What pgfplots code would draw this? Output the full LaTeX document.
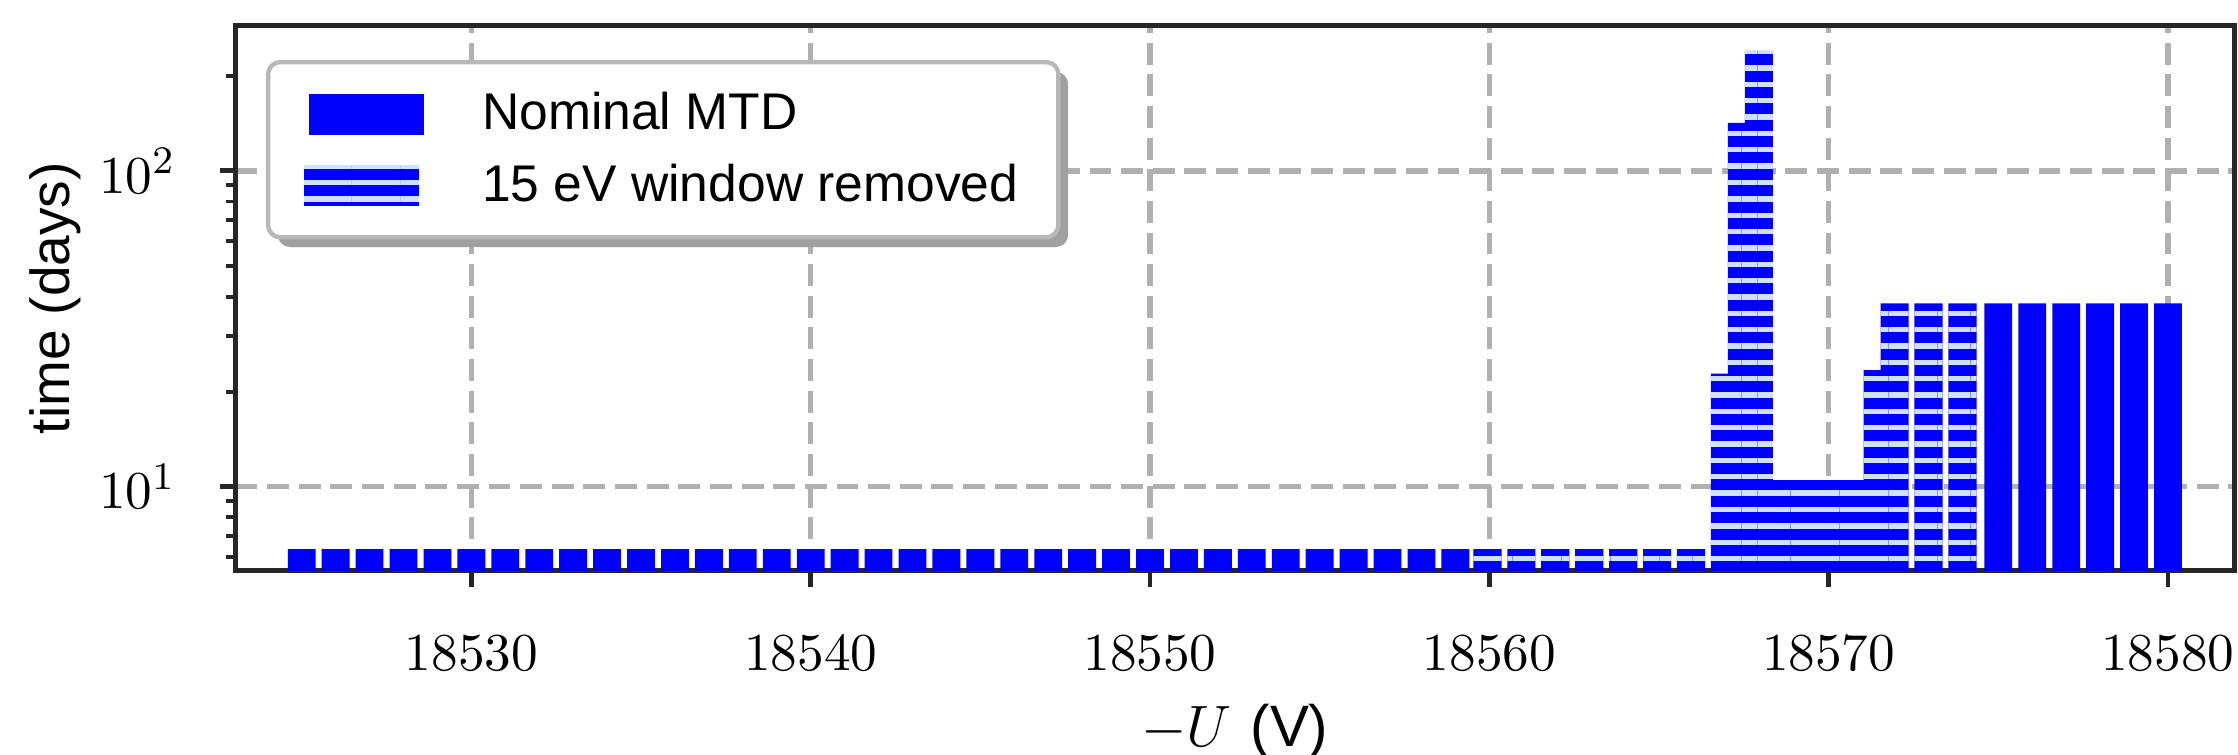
\documentclass[border=0pt]{standalone}
\usepackage{pgfplots}
\pgfplotsset{compat=1.18}
\usepackage{pgfplotstable}
\usepackage{fontspec}
\newfontfamily\arial{Liberation Sans}
\usetikzlibrary{patterns.meta,shadows}
\definecolor{gridgray}{HTML}{B0B0B0}
\definecolor{axisdark}{HTML}{262626}
\definecolor{hatchblue}{HTML}{D2E0FF}
\definecolor{legframe}{HTML}{B8B8B8}
\definecolor{shadowgray}{HTML}{A0A0A0}

\pgfplotstableread{
x y
18525 6.35
18526 6.35
18527 6.35
18528 6.35
18529 6.35
18530 6.35
18531 6.35
18532 6.35
18533 6.35
18534 6.35
18535 6.35
18536 6.35
18537 6.35
18538 6.35
18539 6.35
18540 6.35
18541 6.35
18542 6.35
18543 6.35
18544 6.35
18545 6.35
18546 6.35
18547 6.35
18548 6.35
18549 6.35
18550 6.35
18551 6.35
18552 6.35
18553 6.35
18554 6.35
18555 6.35
18556 6.35
18557 6.35
18558 6.35
18559 6.35
18575 38.1
18576 38.1
18577 38.1
18578 38.1
18579 38.1
18580 38.1
}\nominal

\pgfplotstableread{
x y
18560 6.35
18561 6.35
18562 6.35
18563 6.35
18564 6.35
18565 6.35
18566 6.35
18567 22.8
18567.5 142
18568 240
18568.5 10.5
18569 10.5
18569.5 10.5
18570 10.5
18570.5 10.5
18571 10.5
18571.5 23.4
18572 38.1
18573 38.1
18574 38.1
}\removed

\tikzset{hatchfill/.style={fill=blue, postaction={pattern={Lines[angle=0,distance=3.36pt,line width=1.1pt]}, pattern color=hatchblue}}}

\begin{document}
\begin{tikzpicture}
\begin{axis}[
  scale only axis, width=410.7pt, height=112pt,
  ymode=log,
  xmin=18523.05, xmax=18581.95, ymin=5.42, ymax=288,
  xtick={18530,18540,18550,18560,18570,18580},
  scaled x ticks=false,
  ytick={10,100},
  minor ytick={6,7,8,9,20,30,40,50,60,70,80,90,200},
  tick pos=left, tick align=outside,
  major tick length=3.3pt, minor tick length=2pt,
  tick style={axisdark, line width=1pt},
  minor tick style={line width=0.8pt},
  axis line style={axisdark, line width=1pt},
  grid=major,
  major grid style={gridgray, line width=1.1pt, dash pattern=on 4.5pt off 2pt},
  x tick label style={font=\fontsize{11.3}{13}\selectfont, yshift=-6.5pt,
     /pgf/number format/.cd, fixed, precision=0, 1000 sep={}},
  y tick label style={font=\fontsize{11.3}{13}\selectfont, xshift=-5.5pt},
  xlabel={$-U$ {\arial (V)}},
  ylabel={\arial time (days)},
  every axis x label/.style={at={(axis description cs:0.5,-0.2955)}, anchor=center, font=\fontsize{12}{14}\selectfont},
  every axis y label/.style={at={(axis description cs:-0.0901,0.5)}, anchor=center, rotate=90, font=\fontsize{11.3}{14}\selectfont},
  legend cell align=left,
  legend style={
    at={(axis description cs:0.0163,0.9334)}, anchor=north west,
    draw=none, fill=none,
    inner xsep=7.2pt, inner ysep=3.9pt,
    row sep=1.6pt,
    font=\arial\fontsize{10.6}{12}\selectfont,
    /tikz/every odd column/.append style={column sep=10pt},
  },
]
\addplot[ybar, bar width=0.82, bar shift=0, fill=blue, draw=none,
  legend image code/.code={\fill[blue] (0pt,-4.2pt) rectangle (23.6pt,4.2pt);}]
  table[x=x,y=y] {\nominal};
\addlegendentry{Nominal MTD}
\addplot[ybar, bar width=0.83, bar shift=-0.055, hatchfill, draw=none,
  legend image code/.code={\path[hatchfill] (-1pt,-4.2pt) rectangle (22.6pt,4.2pt);}]
  table[x=x,y=y] {\removed};
\addlegendentry{15 eV window removed}
\draw[legframe, line width=0.9pt, fill=white, rounded corners=2.5pt,
      drop shadow={shadow xshift=2pt, shadow yshift=-2pt, fill=shadowgray, opacity=1}]
  (rel axis cs:0.0163,0.9334) rectangle ++(162.4pt,-36pt);
\coordinate (bl) at (rel axis cs:0,0);
\coordinate (tr) at (rel axis cs:1,1);
\end{axis}
\pgfresetboundingbox
\path[use as bounding box] ([shift={(-48.4pt,-37.8pt)}]bl) rectangle ([shift={(0.8pt,5.3pt)}]tr);
\end{tikzpicture}
\end{document}
